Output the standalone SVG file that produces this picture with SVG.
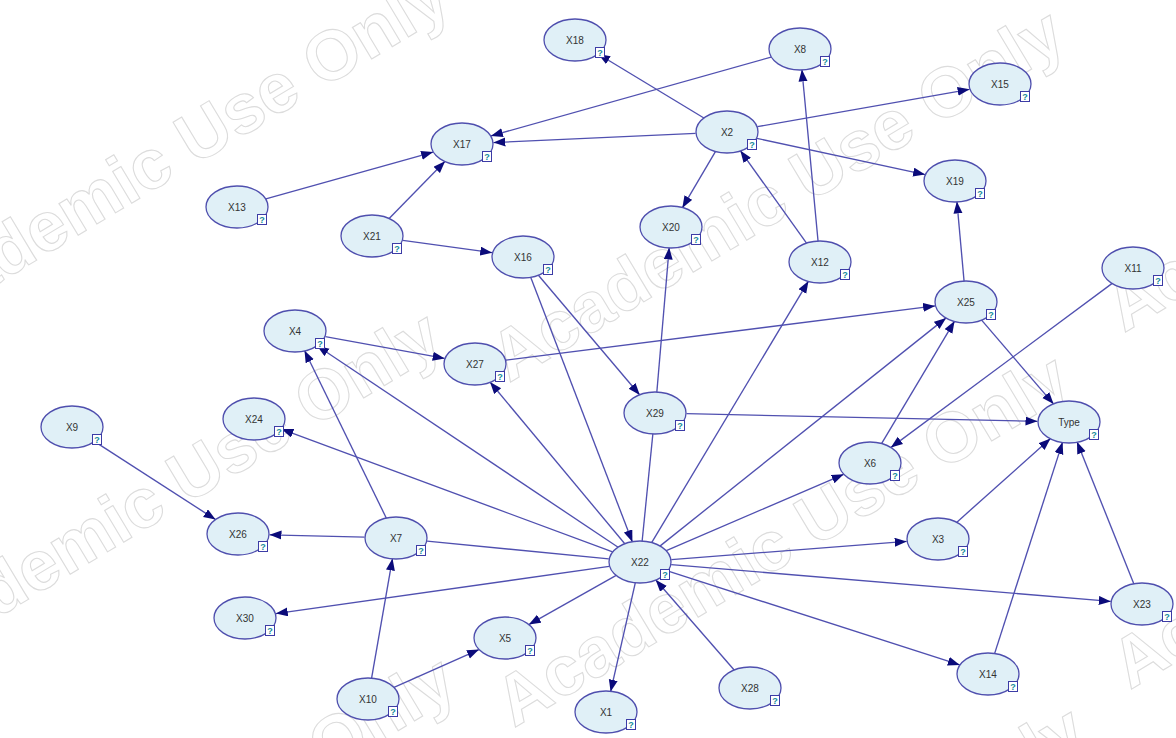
<svg xmlns="http://www.w3.org/2000/svg" xmlns:xlink="http://www.w3.org/1999/xlink" width="1176" height="738" viewBox="0 0 1176 738">
<style>
.wm{font-family:"Liberation Sans",Arial,sans-serif;font-size:70px;font-weight:bold;fill:none;stroke:#dcdcdc;stroke-width:1.1}
.e{stroke:#5050b0;stroke-width:1.35;fill:none}
.a{marker-end:url(#ah)}
.n ellipse{fill:#e0f0f7;stroke:#4f4fae;stroke-width:1.3}
.n .l{font-family:"Liberation Sans",Arial,sans-serif;font-size:10px;fill:#333;text-anchor:middle}
.n rect{fill:#fff;stroke:#3c3ca6;stroke-width:1}
.n .q{font-family:"Liberation Sans",Arial,sans-serif;font-size:9px;font-weight:bold;fill:#138a9a;text-anchor:middle}
</style>
<defs>
<marker id="ah" markerUnits="userSpaceOnUse" markerWidth="13" markerHeight="10" refX="12" refY="4.5" orient="auto"><path d="M0,0 L12,4.5 L0,9 z" fill="#0b0b7a"/></marker>
<text id="wmt" class="wm">Academic Use Only</text>
</defs>
<rect width="1176" height="738" fill="#fff"/>
<g id="watermark">
<use xlink:href="#wmt" transform="translate(-106,346) rotate(-31)"/>
<use xlink:href="#wmt" transform="translate(509,383) rotate(-31)"/>
<use xlink:href="#wmt" transform="translate(-114,685) rotate(-31)"/>
<use xlink:href="#wmt" transform="translate(514,728) rotate(-31)"/>
<use xlink:href="#wmt" transform="translate(1124,333) rotate(-31)"/>
<use xlink:href="#wmt" transform="translate(1130,690) rotate(-31)"/>
<use xlink:href="#wmt" transform="translate(-100,1030) rotate(-31)"/>
<use xlink:href="#wmt" transform="translate(530,1080) rotate(-31)"/>
</g>
<g id="connectors">
<path class="e a" d="M703.9,118.0L598.1,54.0"/>
<path class="e a" d="M771.1,57.1L490.9,135.9"/>
<path class="e a" d="M695.6,133.4L493.4,142.6"/>
<path class="e a" d="M757.4,126.7L969.6,89.3"/>
<path class="e a" d="M756.9,138.4L925.1,174.6"/>
<path class="e a" d="M715.7,151.1L682.3,207.9"/>
<path class="e a" d="M265.9,198.9L433.1,152.1"/>
<path class="e a" d="M388.9,218.7L445.1,161.3"/>
<path class="e a" d="M402.8,240.3L492.2,252.7"/>
<path class="e a" d="M806.7,243.4L740.3,150.6"/>
<path class="e a" d="M818.1,241.5L801.9,69.5"/>
<path class="e a" d="M651.5,542.9L808.5,281.1"/>
<path class="e a" d="M964.1,281.5L956.9,201.5"/>
<path class="e a" d="M505.9,360.1L935.1,305.9"/>
<path class="e a" d="M325.3,336.6L444.7,358.4"/>
<path class="e a" d="M618.1,547.3L317.0,345.7"/>
<path class="e a" d="M386.5,518.5L304.5,350.5"/>
<path class="e a" d="M625.0,544.0L490.0,382.0"/>
<path class="e a" d="M538.2,275.0L639.8,395.0"/>
<path class="e a" d="M530.6,276.9L632.4,542.1"/>
<path class="e a" d="M656.8,392.5L669.2,247.5"/>
<path class="e" d="M652.9,433.5L642.1,541.5"/>
<path class="e a" d="M686.5,413.7L1037.5,421.3"/>
<path class="e a" d="M659.9,546.1L946.1,317.9"/>
<path class="e a" d="M881.4,443.9L954.6,321.1"/>
<path class="e a" d="M1112.2,283.4L890.8,447.6"/>
<path class="e a" d="M981.4,319.9L1053.6,404.1"/>
<path class="e a" d="M666.3,550.7L843.7,474.3"/>
<path class="e a" d="M956.6,522.4L1050.5,438.6"/>
<path class="e a" d="M994.5,653.9L1062.6,442.1"/>
<path class="e a" d="M1134.0,584.2L1077.0,441.8"/>
<path class="e a" d="M671.3,559.6L906.7,541.4"/>
<path class="e a" d="M671.2,564.6L1110.8,601.4"/>
<path class="e a" d="M668.2,571.1L959.8,664.9"/>
<path class="e a" d="M612.6,551.9L281.4,429.1"/>
<path class="e a" d="M94.4,441.4L215.6,519.6"/>
<path class="e a" d="M364.5,537.2L269.5,534.8"/>
<path class="e" d="M427.1,541.1L608.8,558.9"/>
<path class="e a" d="M609.2,566.4L275.8,613.6"/>
<path class="e a" d="M371.5,678.6L392.5,558.4"/>
<path class="e a" d="M394.0,687.4L479.0,649.6"/>
<path class="e a" d="M616.2,575.4L528.8,624.6"/>
<path class="e a" d="M635.4,582.3L610.6,691.7"/>
<path class="e a" d="M734.4,670.2L655.6,579.8"/>
</g>
<g id="nodes">
<g id="X18" class="n" transform="translate(575,40)"><ellipse rx="31" ry="21"/><text class="l" y="3.5">X18</text><rect x="20.5" y="7.5" width="9" height="10"/><text class="q" x="25" y="16">?</text></g>
<g id="X8" class="n" transform="translate(800,49)"><ellipse rx="31" ry="21"/><text class="l" y="3.5">X8</text><rect x="20.5" y="7.5" width="9" height="10"/><text class="q" x="25" y="16">?</text></g>
<g id="X15" class="n" transform="translate(1000,84)"><ellipse rx="31" ry="21"/><text class="l" y="3.5">X15</text><rect x="20.5" y="7.5" width="9" height="10"/><text class="q" x="25" y="16">?</text></g>
<g id="X17" class="n" transform="translate(462,144)"><ellipse rx="31" ry="21"/><text class="l" y="3.5">X17</text><rect x="20.5" y="7.5" width="9" height="10"/><text class="q" x="25" y="16">?</text></g>
<g id="X2" class="n" transform="translate(727,132)"><ellipse rx="31" ry="21"/><text class="l" y="3.5">X2</text><rect x="20.5" y="7.5" width="9" height="10"/><text class="q" x="25" y="16">?</text></g>
<g id="X13" class="n" transform="translate(237,207)"><ellipse rx="31" ry="21"/><text class="l" y="3.5">X13</text><rect x="20.5" y="7.5" width="9" height="10"/><text class="q" x="25" y="16">?</text></g>
<g id="X19" class="n" transform="translate(955,181)"><ellipse rx="31" ry="21"/><text class="l" y="3.5">X19</text><rect x="20.5" y="7.5" width="9" height="10"/><text class="q" x="25" y="16">?</text></g>
<g id="X21" class="n" transform="translate(372,236)"><ellipse rx="31" ry="21"/><text class="l" y="3.5">X21</text><rect x="20.5" y="7.5" width="9" height="10"/><text class="q" x="25" y="16">?</text></g>
<g id="X20" class="n" transform="translate(671,227)"><ellipse rx="31" ry="21"/><text class="l" y="3.5">X20</text><rect x="20.5" y="7.5" width="9" height="10"/><text class="q" x="25" y="16">?</text></g>
<g id="X16" class="n" transform="translate(523,257)"><ellipse rx="31" ry="21"/><text class="l" y="3.5">X16</text><rect x="20.5" y="7.5" width="9" height="10"/><text class="q" x="25" y="16">?</text></g>
<g id="X12" class="n" transform="translate(820,262)"><ellipse rx="31" ry="21"/><text class="l" y="3.5">X12</text><rect x="20.5" y="7.5" width="9" height="10"/><text class="q" x="25" y="16">?</text></g>
<g id="X11" class="n" transform="translate(1133,268)"><ellipse rx="31" ry="21"/><text class="l" y="3.5">X11</text><rect x="20.5" y="7.5" width="9" height="10"/><text class="q" x="25" y="16">?</text></g>
<g id="X25" class="n" transform="translate(966,302)"><ellipse rx="31" ry="21"/><text class="l" y="3.5">X25</text><rect x="20.5" y="7.5" width="9" height="10"/><text class="q" x="25" y="16">?</text></g>
<g id="X4" class="n" transform="translate(295,331)"><ellipse rx="31" ry="21"/><text class="l" y="3.5">X4</text><rect x="20.5" y="7.5" width="9" height="10"/><text class="q" x="25" y="16">?</text></g>
<g id="X27" class="n" transform="translate(475,364)"><ellipse rx="31" ry="21"/><text class="l" y="3.5">X27</text><rect x="20.5" y="7.5" width="9" height="10"/><text class="q" x="25" y="16">?</text></g>
<g id="X29" class="n" transform="translate(655,413)"><ellipse rx="31" ry="21"/><text class="l" y="3.5">X29</text><rect x="20.5" y="7.5" width="9" height="10"/><text class="q" x="25" y="16">?</text></g>
<g id="Type" class="n" transform="translate(1069,422)"><ellipse rx="31" ry="21"/><text class="l" y="3.5">Type</text><rect x="20.5" y="7.5" width="9" height="10"/><text class="q" x="25" y="16">?</text></g>
<g id="X9" class="n" transform="translate(72,427)"><ellipse rx="31" ry="21"/><text class="l" y="3.5">X9</text><rect x="20.5" y="7.5" width="9" height="10"/><text class="q" x="25" y="16">?</text></g>
<g id="X24" class="n" transform="translate(254,419)"><ellipse rx="31" ry="21"/><text class="l" y="3.5">X24</text><rect x="20.5" y="7.5" width="9" height="10"/><text class="q" x="25" y="16">?</text></g>
<g id="X6" class="n" transform="translate(870,463)"><ellipse rx="31" ry="21"/><text class="l" y="3.5">X6</text><rect x="20.5" y="7.5" width="9" height="10"/><text class="q" x="25" y="16">?</text></g>
<g id="X26" class="n" transform="translate(238,534)"><ellipse rx="31" ry="21"/><text class="l" y="3.5">X26</text><rect x="20.5" y="7.5" width="9" height="10"/><text class="q" x="25" y="16">?</text></g>
<g id="X7" class="n" transform="translate(396,538)"><ellipse rx="31" ry="21"/><text class="l" y="3.5">X7</text><rect x="20.5" y="7.5" width="9" height="10"/><text class="q" x="25" y="16">?</text></g>
<g id="X3" class="n" transform="translate(938,539)"><ellipse rx="31" ry="21"/><text class="l" y="3.5">X3</text><rect x="20.5" y="7.5" width="9" height="10"/><text class="q" x="25" y="16">?</text></g>
<g id="X22" class="n" transform="translate(640,562)"><ellipse rx="31" ry="21"/><text class="l" y="3.5">X22</text><rect x="20.5" y="7.5" width="9" height="10"/><text class="q" x="25" y="16">?</text></g>
<g id="X23" class="n" transform="translate(1142,604)"><ellipse rx="31" ry="21"/><text class="l" y="3.5">X23</text><rect x="20.5" y="7.5" width="9" height="10"/><text class="q" x="25" y="16">?</text></g>
<g id="X30" class="n" transform="translate(245,618)"><ellipse rx="31" ry="21"/><text class="l" y="3.5">X30</text><rect x="20.5" y="7.5" width="9" height="10"/><text class="q" x="25" y="16">?</text></g>
<g id="X5" class="n" transform="translate(505,638)"><ellipse rx="31" ry="21"/><text class="l" y="3.5">X5</text><rect x="20.5" y="7.5" width="9" height="10"/><text class="q" x="25" y="16">?</text></g>
<g id="X14" class="n" transform="translate(988,674)"><ellipse rx="31" ry="21"/><text class="l" y="3.5">X14</text><rect x="20.5" y="7.5" width="9" height="10"/><text class="q" x="25" y="16">?</text></g>
<g id="X10" class="n" transform="translate(368,699)"><ellipse rx="31" ry="21"/><text class="l" y="3.5">X10</text><rect x="20.5" y="7.5" width="9" height="10"/><text class="q" x="25" y="16">?</text></g>
<g id="X28" class="n" transform="translate(750,688)"><ellipse rx="31" ry="21"/><text class="l" y="3.5">X28</text><rect x="20.5" y="7.5" width="9" height="10"/><text class="q" x="25" y="16">?</text></g>
<g id="X1" class="n" transform="translate(606,712)"><ellipse rx="31" ry="21"/><text class="l" y="3.5">X1</text><rect x="20.5" y="7.5" width="9" height="10"/><text class="q" x="25" y="16">?</text></g>
</g>
</svg>
